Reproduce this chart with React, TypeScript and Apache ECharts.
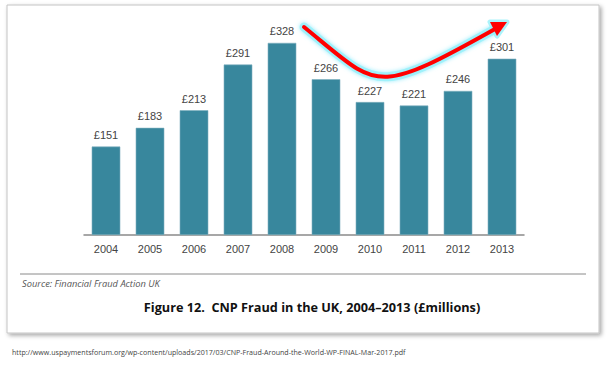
import React, { useEffect, useRef } from "react";
import * as echarts from "echarts";

const years = ["2004", "2005", "2006", "2007", "2008", "2009", "2010", "2011", "2012", "2013"];
const fraudValues = [151, 183, 213, 291, 328, 266, 227, 221, 246, 301];
const titleText = "Figure 12.  CNP Fraud in the UK, 2004\u20132013 (\u00a3millions)";
const sourceText = "Source: Financial Fraud Action UK";
const urlText = "http://www.uspaymentsforum.org/wp-content/uploads/2017/03/CNP-Fraud-Around-the-World-WP-FINAL-Mar-2017.pdf";

export default function App() {
  const ref = useRef<HTMLDivElement>(null);
  useEffect(() => {
    if (!ref.current) return;
    const chart = echarts.init(ref.current, null, { renderer: "svg" });
    const curve = {
      x1: 304, y1: 27,
      cpx1: 379, cpy1: 88,
      cpx2: 372, cpy2: 98,
      x2: 495, y2: 29,
    };
    chart.setOption({
      animation: false,
      backgroundColor: "#ffffff",
      grid: { left: 84, right: 84, top: 30, bottom: 131 },
      xAxis: {
        type: "category",
        data: years,
        axisLine: { lineStyle: { color: "#8a8a8a", width: 1.5 } },
        axisTick: { show: false },
        axisLabel: { color: "#444", fontSize: 11, fontFamily: "Liberation Sans", margin: 8 },
      },
      yAxis: {
        type: "value",
        min: 0,
        max: 350,
        show: false,
        splitLine: { show: false },
      },
      series: [
        {
          type: "bar",
          data: fraudValues,
          barCategoryGap: "35%",
          itemStyle: { color: "#38879d", borderColor: "#7fb0c0", borderWidth: 0.6 },
          label: {
            show: true,
            position: "top",
            distance: 6,
            formatter: (p: any) => "\u00a3" + p.value,
            color: "#444",
            fontSize: 11,
            fontFamily: "Liberation Sans",
          },
        },
      ],
      graphic: [
        {
          type: "rect",
          z: -10,
          shape: { x: 7, y: 5, width: 592, height: 328 },
          style: {
            fill: "#ffffff",
            stroke: "#c4c4c4",
            lineWidth: 1,
            shadowBlur: 4,
            shadowOffsetX: 2,
            shadowOffsetY: 2,
            shadowColor: "rgba(0,0,0,0.35)",
          },
          silent: true,
        },
        {
          type: "line",
          shape: { x1: 20, y1: 274, x2: 586, y2: 274 },
          style: { stroke: "#8a8a8a", lineWidth: 1 },
        },
        {
          type: "text",
          x: 22,
          y: 283,
          style: {
            text: sourceText,
            fill: "#555",
            fontSize: 9.3,
            fontStyle: "italic",
            fontFamily: "Open Sans",
            verticalAlign: "middle",
          },
        },
        {
          type: "text",
          x: 312,
          y: 307,
          style: {
            text: titleText,
            fill: "#111",
            fontSize: 12.7,
            fontWeight: "bold",
            fontFamily: "Open Sans",
            align: "center",
            verticalAlign: "middle",
          },
        },
        {
          type: "text",
          x: 12,
          y: 352,
          style: {
            text: urlText,
            fill: "#444",
            fontSize: 7.1,
            fontFamily: "Open Sans",
            verticalAlign: "middle",
          },
        },
        {
          type: "bezierCurve",
          shape: curve,
          z: 50,
          style: {
            stroke: "rgba(150,240,250,0.8)",
            lineWidth: 9,
            fill: "none",
            lineCap: "round",
            shadowBlur: 4,
            shadowColor: "rgba(120,230,250,0.9)",
          },
        },
        {
          type: "polygon",
          z: 50,
          shape: { points: [[507, 22], [497, 36], [490, 22]] },
          style: {
            fill: "rgba(150,240,250,0.8)",
            stroke: "rgba(150,240,250,0.8)",
            lineWidth: 5,
            lineJoin: "round",
          },
        },
        {
          type: "bezierCurve",
          shape: curve,
          z: 51,
          style: { stroke: "#ff0000", lineWidth: 4, fill: "none", lineCap: "round" },
        },
        {
          type: "polygon",
          z: 51,
          shape: { points: [[507, 22], [497, 36], [490, 22]] },
          style: { fill: "#ff0000" },
        },
      ],
    });
    return () => chart.dispose();
  }, []);
  return (
    <div
      ref={ref}
      style={{ position: "fixed", left: 0, top: 0, width: 608, height: 366 }}
    />
  );
}
